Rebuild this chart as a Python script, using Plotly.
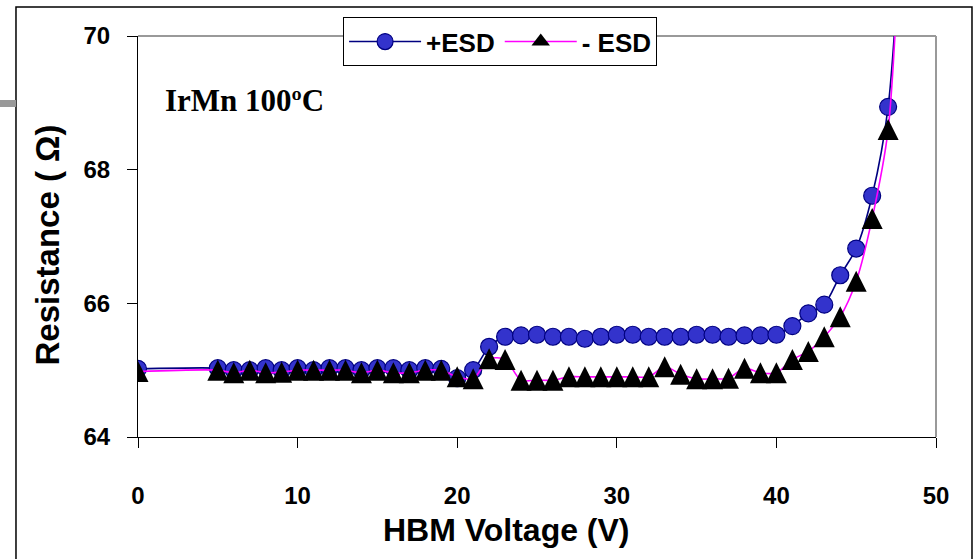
import plotly.graph_objects as go

voltage = [0, 5, 6, 7, 8, 9, 10, 11, 12, 13, 14, 15, 16, 17, 18, 19, 20, 21,
           22, 23, 24, 25, 26, 27, 28, 29, 30, 31, 32, 33, 34, 35, 36, 37, 38, 39, 40,
           41, 42, 43, 44, 45, 46, 47, 48]

plus_esd = [65.02,
            65.03, 65.0, 65.0, 65.03, 65.0, 65.03, 65.0, 65.03, 65.03, 65.0, 65.03, 65.03, 65.0, 65.03, 65.02,
            64.88, 65.0,
            65.35, 65.5, 65.52, 65.53, 65.5, 65.5, 65.47, 65.5, 65.53, 65.53, 65.5, 65.5, 65.5, 65.53, 65.53,
            65.5, 65.52, 65.52, 65.53,
            65.66, 65.85, 65.98, 66.42, 66.82, 67.61, 68.94, 72.5]

minus_esd = [64.98,
             65.0, 64.96, 65.0, 64.96, 64.97, 65.0, 65.0, 65.0, 65.0, 64.96, 65.0, 64.96, 64.96, 65.0, 65.0,
             64.9, 64.87,
             65.17, 65.16, 64.85, 64.85, 64.85, 64.9, 64.9, 64.9, 64.9, 64.9, 64.9, 65.05, 64.94, 64.87, 64.87,
             64.88, 65.03, 64.96, 64.96,
             65.16, 65.28, 65.5, 65.8, 66.33, 67.27, 68.6, 73.0]

series_names = ["+ESD", "- ESD"]
x_ticks = [0, 10, 20, 30, 40, 50]
y_ticks = [64, 66, 68, 70]

FONT = "Liberation Sans, Arial, sans-serif"
PLUS_LINE = dict(color="#000080", width=1.6, shape="spline", smoothing=0.8)
MINUS_LINE = dict(color="#FF00FF", width=1.6, shape="spline", smoothing=0.8)

fig = go.Figure()
fig.add_trace(go.Scatter(
    x=voltage, y=plus_esd, name=series_names[0], mode="lines+markers",
    line=PLUS_LINE,
    marker=dict(symbol="circle", size=17, color="#3333CC",
                line=dict(color="#000080", width=1.2)),
    legendrank=1,
))
fig.add_trace(go.Scatter(
    x=voltage, y=minus_esd, name=series_names[1], mode="lines+markers",
    line=MINUS_LINE, showlegend=False,
    marker=dict(symbol="arrow-down", angle=180, standoff=10.5, size=21, color="#000000",
                line=dict(color="#000000", width=0)),
))
# legend entry for the "- ESD" series (same styling, plain triangle glyph)
fig.add_trace(go.Scatter(
    x=[None], y=[None], name=series_names[1], mode="lines+markers",
    line=MINUS_LINE,
    marker=dict(symbol="triangle-up", size=20, color="#000000", line=dict(width=0)),
    legendrank=2,
))

fig.update_layout(
    width=977, height=559,
    margin=dict(l=138, r=41, t=36, b=122),
    paper_bgcolor="white", plot_bgcolor="white",
    font=dict(family=FONT, color="black"),
    showlegend=True,
    legend=dict(
        orientation="h", x=0.257, y=1.047, xanchor="left", yanchor="top",
        bgcolor="white", bordercolor="black", borderwidth=1,
        font=dict(size=26, family=FONT, weight="bold"), itemwidth=72,
        tracegroupgap=0,
    ),
    xaxis=dict(
        range=[0, 50], tickvals=x_ticks, ticks="outside", ticklen=10, tickcolor="black",
        showline=True, linecolor="black", linewidth=1, showgrid=False, zeroline=False,
        tickfont=dict(size=24, family=FONT, weight="bold"), ticklabelstandoff=27,
    ),
    yaxis=dict(
        range=[64, 70], tickvals=y_ticks, ticks="outside", ticklen=10, tickcolor="black",
        showline=True, linecolor="black", linewidth=1, showgrid=False, zeroline=False,
        tickfont=dict(size=24, family=FONT, weight="bold"), ticklabelstandoff=12,
    ),
    shapes=[
        dict(type="line", xref="paper", yref="paper", x0=0, x1=1, y0=1, y1=1,
             line=dict(color="#999999", width=2), layer="below"),
        dict(type="line", xref="paper", yref="paper", x0=1, x1=1, y0=0, y1=1,
             line=dict(color="#999999", width=2), layer="below"),
        dict(type="rect", xref="paper", yref="paper", x0=-0.1529, x1=1.0451, y0=-0.33, y1=1.0723,
             line=dict(color="black", width=1.5), fillcolor="rgba(0,0,0,0)", layer="below"),
        dict(type="rect", xref="paper", yref="paper", x0=-0.18, x1=-0.1529, y0=0.823, y1=0.8404,
             line=dict(width=0), fillcolor="#999999", layer="below"),
    ],
    annotations=[
        dict(text="IrMn 100ºC", xref="paper", yref="paper", x=0.031, y=0.84,
             xanchor="left", yanchor="middle", showarrow=False,
             font=dict(family="Liberation Serif, Times New Roman, serif", size=31, weight="bold")),
        dict(text="HBM Voltage (V)", xref="paper", yref="paper", x=0.462, y=-0.232,
             xanchor="center", yanchor="middle", showarrow=False,
             font=dict(family=FONT, size=32, weight="bold")),
        dict(text="Resistance ( Ω)", xref="paper", yref="paper", x=-0.1128, y=0.48,
             xanchor="center", yanchor="middle", showarrow=False, textangle=-90,
             font=dict(family=FONT, size=33, weight="bold")),
    ],
)

fig.write_html("out.html")
